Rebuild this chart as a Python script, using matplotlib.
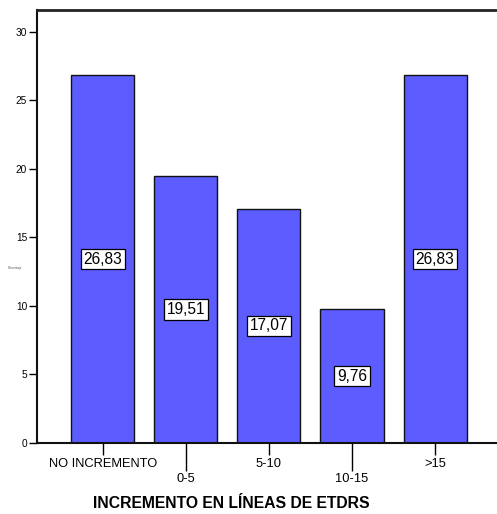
import matplotlib
matplotlib.use("Agg")
import matplotlib.pyplot as plt

plt.rcParams['font.family'] = ['Liberation Sans', 'DejaVu Sans']

categories = ["NO INCREMENTO", "0-5", "5-10", "10-15", ">15"]
percentages = [26.83, 19.51, 17.07, 9.76, 26.83]
value_labels = ["26,83", "19,51", "17,07", "9,76", "26,83"]
y_ticks = [0, 5, 10, 15, 20, 25, 30]

W, H = 497, 514
fig = plt.figure(figsize=(W / 100, H / 100), dpi=100)
left_px, top_px, bottom_px, right_px = 37.3, 9.5, 443.0, 500.5
ax = fig.add_axes([left_px / W, 1 - bottom_px / H,
                   (right_px - left_px) / W, (bottom_px - top_px) / H])

x = list(range(len(categories)))
ax.bar(x, percentages, width=0.76, color="#5c5cff", edgecolor="#111111",
       linewidth=1.0, zorder=2)

for xi, v, lab in zip(x, percentages, value_labels):
    ax.text(xi, v / 2, lab, ha="center", va="center", fontsize=11.2,
            color="black", zorder=3,
            bbox=dict(boxstyle="square,pad=0.18", facecolor="white",
                      edgecolor="black", linewidth=0.9))

ax.set_xlim(-0.787, 4.787)
ax.set_ylim(0, 31.62)

ax.set_yticks(y_ticks)
ax.set_yticklabels([str(t) for t in y_ticks], fontsize=7.3)
ax.tick_params(axis="y", length=5.8, width=1.0, pad=1.5, color="black")

# alternating category labels: even positions on the upper row, odd on the lower row
even = [i for i in x if i % 2 == 0]
odd = [i for i in x if i % 2 == 1]
ax.set_xticks(even)
ax.set_xticklabels([categories[i] for i in even], fontsize=9.3)
ax.set_xticks(odd, minor=True)
ax.set_xticklabels([categories[i] for i in odd], minor=True, fontsize=9.3)
ax.tick_params(axis="x", which="major", length=8.6, width=1.0, pad=2.5)
ax.tick_params(axis="x", which="minor", length=20.5, width=1.0, pad=1.0)

for side in ["left", "bottom"]:
    ax.spines[side].set_linewidth(1.5)
    ax.spines[side].set_color("#111111")
ax.spines["top"].set_linewidth(2.0)
ax.spines["top"].set_color("#222222")
ax.spines["right"].set_visible(False)

fig.text((90 + 372) / 2 / W, 1 - 503 / H, "INCREMENTO EN LÍNEAS DE ETDRS",
         ha="center", va="center", fontsize=11.3, fontweight="bold")
fig.text(15 / W, 1 - 268 / H, "Porcentaje", ha="center", va="center",
         fontsize=2.2, color="#555555")

fig.savefig("out.png", dpi=100)
